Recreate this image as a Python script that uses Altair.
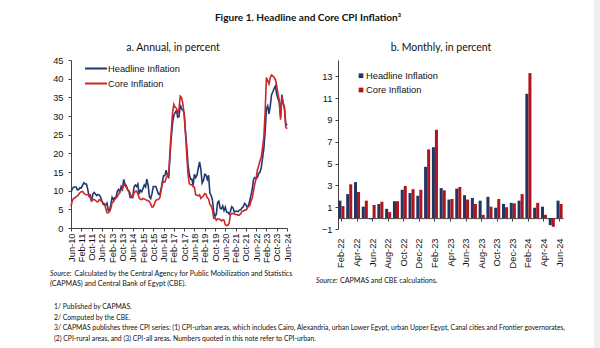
import json
import altair as alt
import pandas as pd

# ---------------- data ----------------
series = ["Headline Inflation", "Core Inflation"]

annual_tick_labels = ["Jun-10", "Feb-11", "Oct-11", "Jun-12", "Feb-13", "Oct-13", "Jun-14",
                      "Feb-15", "Oct-15", "Jun-16", "Feb-17", "Oct-17", "Jun-18", "Feb-19",
                      "Oct-19", "Jun-20", "Feb-21", "Oct-21", "Jun-22", "Feb-23", "Oct-23", "Jun-24"]

# monthly, Jun-2010 .. Jun-2024 (annual % change)
headline_annual = (
    [9.6, 10.5, 10.9, 11.0, 11.0, 10.2, 10.3] +
    [10.8, 10.7, 11.5, 12.1, 11.8, 11.8, 10.4, 8.5, 8.2, 7.1, 9.1, 9.5] +
    [9.1, 8.7, 9.0, 8.8, 8.3, 7.3, 6.4, 6.2, 6.2, 6.7, 4.7, 4.7] +
    [6.3, 8.2, 7.6, 8.1, 8.2, 9.8, 10.3, 9.7, 11.1, 10.4, 13.0, 11.7] +
    [11.4, 10.2, 9.8, 8.2, 8.2, 8.2, 11.0, 11.5, 11.1, 11.8, 9.1, 10.1] +
    [9.7, 10.6, 11.5, 11.0, 13.1, 11.4, 8.4, 7.9, 9.2, 11.1, 11.1, 11.1] +
    [10.1, 9.1, 9.0, 10.3, 12.3, 14.0, 14.0, 15.5, 14.1, 13.6, 19.4, 24.3] +
    [28.1, 30.2, 30.9, 31.5, 29.7, 29.8, 33.0, 31.9, 31.6, 30.8, 26.0, 21.9] +
    [17.1, 14.4, 13.1, 13.1, 11.4, 14.4, 13.5, 14.2, 16.0, 17.7, 15.7, 12.0] +
    [12.7, 14.4, 14.2, 13.0, 14.1, 9.4, 8.7, 7.5, 4.3, 3.1, 3.6, 6.8] +
    [7.2, 5.3, 5.1, 5.9, 4.7, 5.6, 4.2, 4.2, 3.7, 4.5, 5.7, 5.4] +
    [4.3, 4.5, 4.5, 4.4, 4.8, 4.9, 5.4, 5.7, 6.6, 6.3, 5.6, 5.9] +
    [7.3, 8.8, 10.5, 13.1, 13.5, 13.2, 13.6, 14.6, 15.0, 16.2, 18.7, 21.3] +
    [25.8, 31.9, 32.7, 30.6, 32.7, 35.7, 36.5, 37.4, 38.0, 35.8, 34.6, 33.7] +
    [29.8, 35.7, 33.3, 32.5, 28.1, 27.5]
)
core_annual = (
    [5.8, 7.3, 7.9, 8.0, 8.4, 8.6, 9.0] +
    [9.5, 9.7, 9.8, 9.3, 9.0, 8.9, 8.9, 8.8, 8.9, 7.3, 7.6, 7.6] +
    [7.4, 7.1, 7.0, 7.6, 7.4, 7.1, 6.7, 6.5, 5.3, 4.1, 4.1, 4.4] +
    [5.3, 6.8, 7.0, 7.7, 8.0, 8.4, 9.0, 9.8, 10.1, 10.5, 11.7, 11.3] +
    [10.9, 10.4, 10.0, 9.3, 8.5, 8.2, 9.3, 9.8, 9.9, 9.2, 8.1, 7.7] +
    [7.6, 7.9, 7.8, 7.6, 7.4, 7.3, 7.1, 6.4, 5.6, 5.7, 6.6, 7.4] +
    [7.6, 7.7, 8.0, 9.8, 11.8, 12.4, 12.3, 13.3, 13.9, 14.0, 20.7, 25.9] +
    [30.9, 33.1, 32.3, 32.1, 30.6, 31.9, 35.3, 34.9, 33.3, 30.6, 25.5, 19.9] +
    [14.4, 11.9, 11.6, 11.6, 11.1, 10.9, 8.9, 8.8, 8.6, 8.9, 7.9, 8.3] +
    [8.6, 9.2, 9.0, 8.1, 7.8, 6.4, 5.9, 4.9, 2.6, 2.7, 2.1, 2.4] +
    [2.4, 2.3, 1.9, 2.2, 2.1, 0.9, 0.7, 0.7, 1.3, 3.6, 3.9, 3.8] +
    [3.8, 3.6, 3.6, 3.4, 3.5, 3.8, 4.5, 4.5, 4.8, 4.8, 5.2, 5.8] +
    [6.0, 7.2, 8.1, 10.1, 11.9, 13.3, 15.6, 16.7, 18.0, 19.0, 21.5, 24.4] +
    [31.2, 40.3, 39.5, 38.6, 40.3, 41.0, 40.7, 40.4, 39.7, 38.1, 35.9, 34.2] +
    [29.0, 35.1, 33.7, 31.8, 27.1, 26.6]
)

monthly_labels = ["Feb-22", "Mar-22", "Apr-22", "May-22", "Jun-22", "Jul-22", "Aug-22", "Sep-22",
                  "Oct-22", "Nov-22", "Dec-22", "Jan-23", "Feb-23", "Mar-23", "Apr-23", "May-23",
                  "Jun-23", "Jul-23", "Aug-23", "Sep-23", "Oct-23", "Nov-23", "Dec-23", "Jan-24",
                  "Feb-24", "Mar-24", "Apr-24", "May-24", "Jun-24"]
headline_monthly = [1.6, 2.2, 3.3, 1.05, -0.1, 1.3, 0.85, 1.55, 2.6, 2.3, 2.05,
                    4.7, 6.5, 2.75, 1.7, 2.7, 2.1, 1.85, 1.6, 1.95, 0.95, 1.3, 1.4,
                    1.6, 11.4, 0.95, 1.05, -0.65, 1.6]
core_monthly = [1.1, 3.1, 2.4, 1.6, 1.2, 1.5, 0.55, 1.55, 2.95, 2.65, 2.6,
                6.3, 8.1, 2.55, 1.75, 2.85, 1.7, 1.3, 0.3, 1.05, 1.75, 1.0, 1.35,
                2.2, 13.3, 1.4, 0.3, -0.8, 1.3]

title_text = "Figure 1. Headline and Core CPI Inflation\u00b3"
subtitle_a = "a. Annual, in percent"
subtitle_b = "b. Monthly, in percent"
source_a = ["Calculated by the Central Agency for Public Mobilization and Statistics",
            "(CAPMAS) and Central Bank of Egypt (CBE)."]
source_b = "CAPMAS and CBE calculations."
footnotes = [
    "1/ Published by CAPMAS.",
    "2/ Computed by the CBE.",
    "3/ CAPMAS publishes three CPI series: (1) CPI-urban areas, which includes Cairo, Alexandria, urban Lower Egypt, urban Upper Egypt, Canal cities and Frontier governorates,",
    "(2) CPI-rural areas, and (3) CPI-all areas. Numbers quoted in this note refer to CPI-urban.",
]

# ---------------- styling ----------------
LINE_COLORS = ["#1F3A70", "#D0242B"]
BAR_COLORS = ["#1F3562", "#B0141C"]
AXIS_FONT = "Liberation Sans"
TEXT_FONT = "Lato"
W1, H1 = 216, 168
W2, H2 = 225, 169
Y2_MIN, Y2_MAX = -1.0, 14.5


def txt(s, x, y, size, align="left", weight="normal", style="normal", font=TEXT_FONT, color="#111111"):
    return alt.Chart(pd.DataFrame({"t": [s]})).mark_text(
        align=align, baseline="middle", fontSize=size, fontWeight=weight,
        fontStyle=style, font=font, color=color
    ).encode(x=alt.value(x), y=alt.value(y), text="t:N")


# ---------------- panel a ----------------
n = len(headline_annual)
df_a = pd.DataFrame({
    "idx": list(range(n)) * 2,
    "value": headline_annual + core_annual,
    "series": [series[0]] * n + [series[1]] * n,
})
label_expr = json.dumps(annual_tick_labels) + "[round(datum.value / 8)]"

xa = alt.X("idx:Q", title=None,
           scale=alt.Scale(domain=[0, n - 1], nice=False, zero=False),
           axis=alt.Axis(values=list(range(0, n, 8)), labelExpr=label_expr, labelAngle=-90,
                         labelAlign="right", labelBaseline="middle", tickSize=3, labelPadding=2))
ya = alt.Y("value:Q", title=None,
           scale=alt.Scale(domain=[0, 45], nice=False),
           axis=alt.Axis(values=list(range(0, 46, 5)), tickSize=3, labelPadding=5))

lines = []
for i, s in enumerate(series):
    lines.append(
        alt.Chart(df_a).transform_filter(alt.datum.series == s)
        .mark_line(strokeWidth=1.6, color=LINE_COLORS[i])
        .encode(x=xa, y=ya)
    )

leg_a = []
for i, s in enumerate(series):
    leg_a.append(alt.Chart(pd.DataFrame({"t": [s]})).mark_rule(strokeWidth=2, color=LINE_COLORS[i])
                 .encode(x=alt.value(14), x2=alt.value(36), y=alt.value(8.5 + 15 * i)))
    leg_a.append(txt(s, 37, 8.5 + 15 * i, 9.3, font=AXIS_FONT, color="#111111"))

texts_a = [
    txt(title_text, 237, -42.5, 10.1, align="center", weight="bold"),
    txt(subtitle_a, 102, -12, 10.5, align="center"),
    txt("Source:", -21, 213.5, 7.1, style="italic"),
    txt(source_a[0], 3.5, 213.5, 7.1),
    txt(source_a[1], -21, 223.5, 7.1),
]
for k, f in enumerate(footnotes):
    texts_a.append(txt(f, -17, 247 + 10.5 * k, 6.8))

left = alt.layer(*lines, *leg_a, *texts_a).properties(width=W1, height=H1)

# ---------------- panel b ----------------
m = len(monthly_labels)
df_b = pd.DataFrame({
    "month": monthly_labels * 2,
    "value": headline_monthly + core_monthly,
    "series": [series[0]] * m + [series[1]] * m,
})
zero_off = H2 * (0 - Y2_MIN) / (Y2_MAX - Y2_MIN)

bars = alt.Chart(df_b).mark_bar().encode(
    x=alt.X("month:N", sort=monthly_labels, title=None,
            scale=alt.Scale(paddingInner=0.22, paddingOuter=0.05),
            axis=alt.Axis(values=monthly_labels[::2], labelAngle=-90, labelAlign="right",
                          labelBaseline="middle", offset=-zero_off, tickSize=3,
                          labelPadding=zero_off + 6)),
    xOffset=alt.XOffset("series:N", sort=series),
    y=alt.Y("value:Q", title=None,
            scale=alt.Scale(domain=[Y2_MIN, Y2_MAX], nice=False, zero=False),
            axis=alt.Axis(values=list(range(-1, 14, 2)), tickSize=3, labelPadding=3)),
    color=alt.Color("series:N", sort=series, legend=None,
                    scale=alt.Scale(domain=series, range=BAR_COLORS)),
)

strip = alt.Chart(pd.DataFrame({"t": [0]})).mark_rect(color="#EFEFEF").encode(
    x=alt.value(256), x2=alt.value(275), y=alt.value(-70), y2=alt.value(300))

leg_b = []
for i, s in enumerate(series):
    leg_b.append(alt.Chart(pd.DataFrame({"t": [s]})).mark_square(size=22, color=BAR_COLORS[i], opacity=1)
                 .encode(x=alt.value(23), y=alt.value(15.7 + 14.3 * i)))
    leg_b.append(txt(s, 28, 15.7 + 14.3 * i, 9.3, font=AXIS_FONT))

texts_b = [
    txt(subtitle_b, 103, -12, 10.5, align="center"),
    txt("Source:", -22, 221, 7.1, style="italic"),
    txt(source_b, 2, 221, 7.1),
]

right = alt.layer(strip, bars, *leg_b, *texts_b).properties(width=W2, height=H2)

chart = alt.hconcat(left, right, spacing=51, bounds="flush").properties(
    autosize=alt.AutoSizeParams(type="none"),
    padding={"left": 71, "top": 60, "right": 529, "bottom": 288},
    background="white",
).configure_view(stroke=None).configure_axis(
    grid=False, domainColor="#444444", tickColor="#444444", labelColor="#111111",
    labelFont=AXIS_FONT, labelFontSize=9.3,
)

chart.save("out.html", embed_options={"renderer": "svg", "actions": False})
